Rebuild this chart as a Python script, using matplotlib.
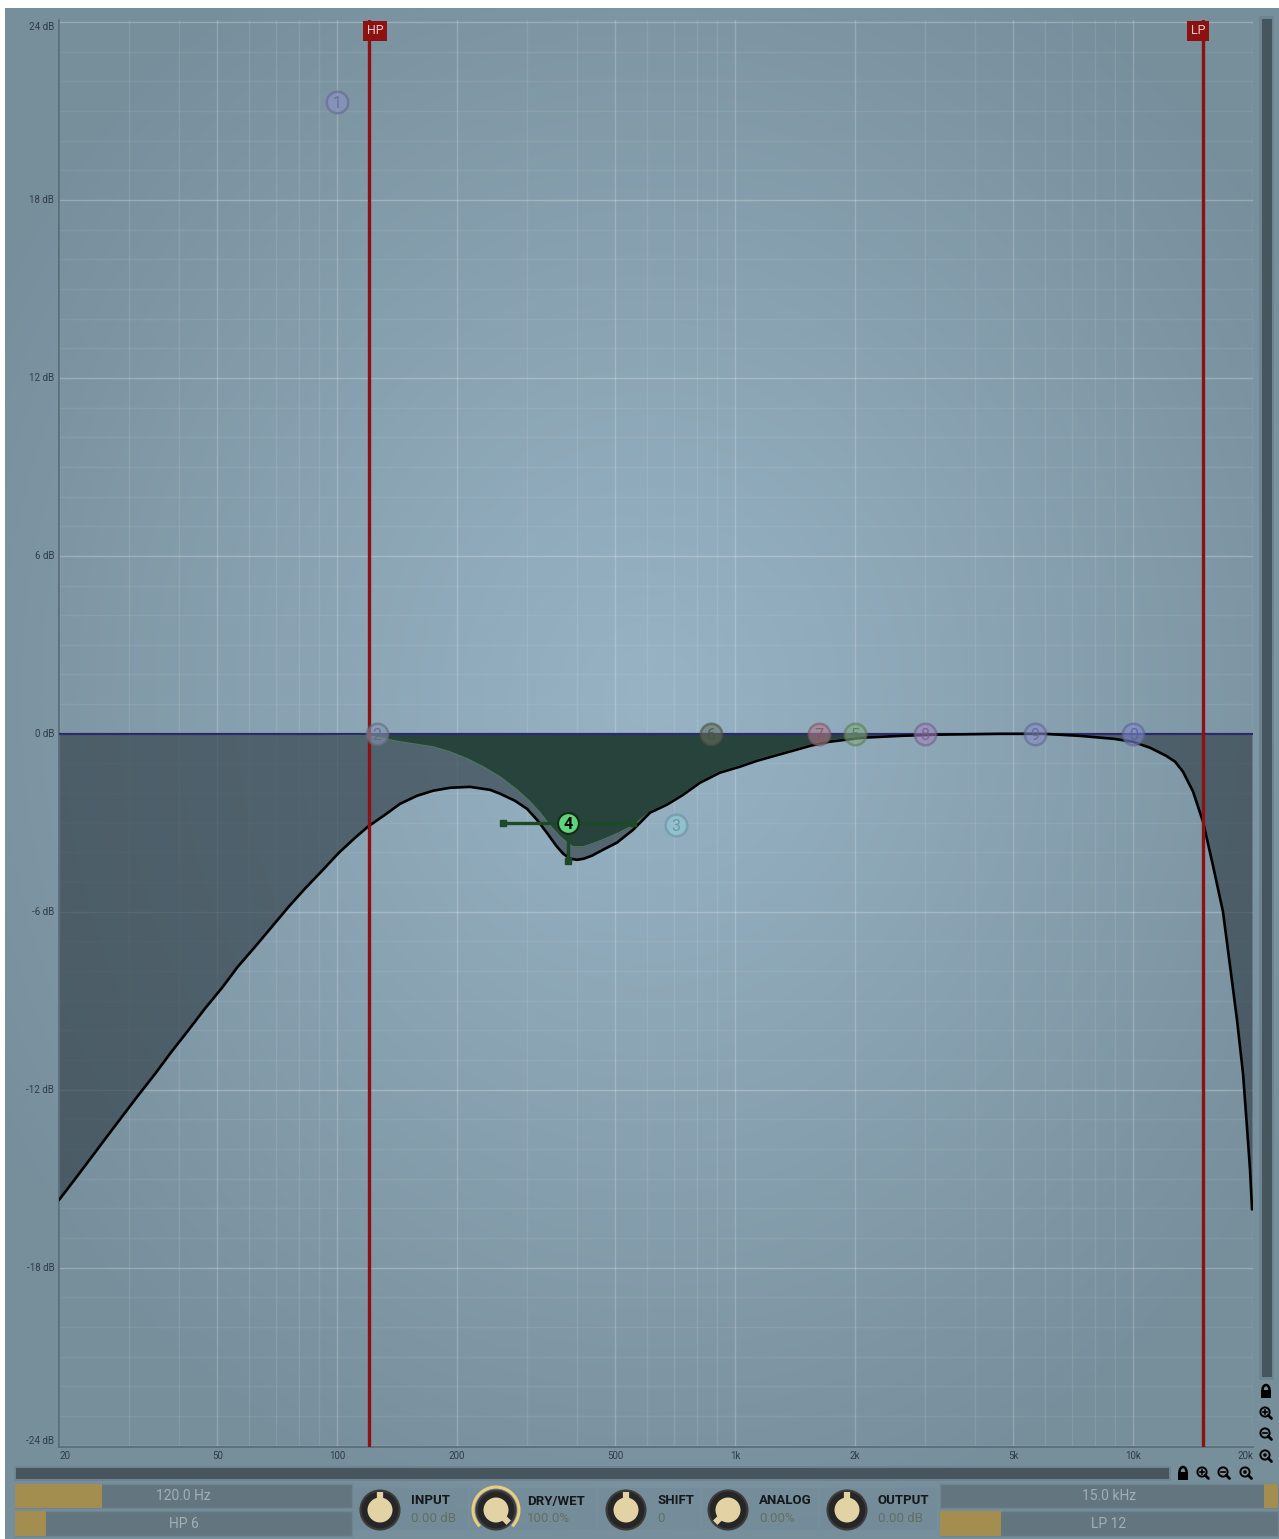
import numpy as np
import matplotlib
matplotlib.use("Agg")
import matplotlib.pyplot as plt
from matplotlib.patches import Rectangle, Circle, Arc
from matplotlib.ticker import NullLocator
from matplotlib.colors import to_rgb

plt.rcParams["font.family"] = ["Roboto", "DejaVu Sans"]

W, H = 1279, 1539

# total response curve (Hz, dB)
freq_total = [20.0, 21.9, 24.1, 26.4, 28.8, 31.6, 34.9, 38.2, 42.2, 46.5, 51.4,
              56.3, 62.2, 68.6, 75.2, 83.0, 91.6, 100.5, 110.8, 119.5, 131.9,
              143.9, 158.7, 174.1, 192.1, 215.6, 242.2, 256.5, 279.8, 299.9,
              317.7, 336.6, 354.8, 369.4, 384.5, 400.4, 417.0, 436.7, 465.5,
              504.6, 553.6, 610.8, 674.0, 739.4, 815.8, 915.8, 1028, 1135, 1259,
              1397, 1550, 1721, 1899, 2106, 2595, 3195, 4628, 5936, 7352, 8950,
              9990, 11020, 12090, 12740, 13340, 14140, 14980, 15870, 16810,
              17510, 18230, 18880, 19320, 19660, 19890]
db_total = [-15.72, -15.03, -14.29, -13.58, -12.91, -12.20, -11.46, -10.75,
            -10.01, -9.27, -8.56, -7.85, -7.18, -6.50, -5.86, -5.22, -4.62,
            -4.04, -3.51, -3.13, -2.73, -2.36, -2.09, -1.92, -1.82, -1.79,
            -1.89, -2.02, -2.26, -2.53, -2.90, -3.34, -3.77, -4.04, -4.21,
            -4.25, -4.21, -4.11, -3.91, -3.67, -3.24, -2.66, -2.39, -2.06,
            -1.65, -1.31, -1.11, -0.91, -0.74, -0.57, -0.40, -0.27, -0.20,
            -0.13, -0.07, -0.03, 0.0, 0.0, -0.07, -0.17, -0.27, -0.47, -0.74,
            -0.94, -1.28, -1.95, -2.97, -4.45, -6.00, -7.82, -9.64, -11.46,
            -13.28, -14.70, -16.04]

# band 4 response (green area)
freq_band4 = [20.0, 80.7, 120.2, 143.9, 174.1, 192.1, 211.8, 232.4, 256.5,
              283.0, 305.2, 323.3, 342.6, 363.0, 378.0, 391.3, 414.6, 431.5,
              465.5, 504.6, 553.6, 610.8, 674.0, 739.4, 815.8, 915.8, 1028,
              1135, 1259, 1397, 1550, 1721, 1899, 2106, 2595, 3195]
db_band4 = [0.0, -0.03, -0.07, -0.27, -0.44, -0.61, -0.84, -1.11, -1.45,
            -1.89, -2.29, -2.66, -3.10, -3.47, -3.67, -3.81, -3.81, -3.74,
            -3.57, -3.37, -3.10, -2.63, -2.36, -2.02, -1.62, -1.28, -1.08,
            -0.88, -0.71, -0.54, -0.37, -0.24, -0.17, -0.10, -0.03, 0.0]

hp_freq = 120.0
lp_freq = 15000.0
hp_slope_frac = 0.092
lp_slope_frac = 0.18

node_labels = ["1", "2", "3", "4", "5", "6", "7", "8", "9", "0"]
node_freq = [100, 126, 709, 380, 2000, 870, 1620, 3000, 5650, 10000]
node_db = [21.3, 0, -3.07, -3.0, 0, 0, 0, 0, 0, 0]
node_colors = ["#8a90c6", "#8693ae", "#8fcbd8", "#5ed47c", "#7ea87e",
               "#65705f", "#b07a8a", "#a084be", "#878dc6", "#7d88cc"]
band4_q_lo, band4_q_hi = 261, 553
band4_handle_db = -4.3

db_ticks = [24, 18, 12, 6, 0, -6, -12, -18, -24]
freq_ticks = [20, 50, 100, 200, 500, 1000, 2000, 5000, 10000, 20000]
freq_labels = ["20", "50", "100", "200", "500", "1k", "2k", "5k", "10k", "20k"]
freq_grid = [20, 30, 40, 50, 60, 70, 80, 90, 100, 200, 300, 400, 500, 600, 700,
             800, 900, 1000, 2000, 3000, 4000, 5000, 6000, 7000, 8000, 9000,
             10000, 20000]

knob_names = ["INPUT", "DRY/WET", "SHIFT", "ANALOG", "OUTPUT"]
knob_values = ["0.00 dB", "100.0%", "0", "0.00%", "0.00 dB"]
knob_pos = [0.5, 1.0, 0.5, 0.0, 0.5]

fig = plt.figure(figsize=(W / 100, H / 100), dpi=100)
fig.patch.set_facecolor("white")

# background / UI layer in pixel coordinates
ui = fig.add_axes([0, 0, 1, 1])
ui.set_xlim(0, W)
ui.set_ylim(H, 0)
ui.axis("off")

yy, xx = np.mgrid[8:H, 5:W]
r = np.sqrt(((xx - 650) / 760.0) ** 2 + ((yy - 700) / 860.0) ** 2)
t = np.clip(r, 0, 1)[..., None] ** 1.1
c0 = np.array([0x97, 0xb3, 0xc4]) / 255
c1 = np.array([0x77, 0x8e, 0x9b]) / 255
img = c0 * (1 - t) + c1 * t
ui.imshow(img, extent=(5, W, H, 8), aspect="auto", zorder=0)

# scrollbars
ui.add_patch(Rectangle((1259, 16), 15, 1364, fc="#6d8491", ec="none", zorder=1))
ui.add_patch(Rectangle((1262, 19), 10, 1358, fc="#46555e", ec="none", zorder=2))
ui.add_patch(Rectangle((14, 1466), 1157, 15, fc="#6d8491", ec="none", zorder=1))
ui.add_patch(Rectangle((16, 1468), 1153, 11, fc="#46555e", ec="none", zorder=2))


def lock(cx, cy):
    ui.add_patch(Rectangle((cx - 5, cy - 1), 10, 8, fc="black", ec="none", zorder=3))
    ui.add_patch(Arc((cx, cy - 1), 7, 10, theta1=180, theta2=360, lw=1.8,
                     color="black", zorder=3))


def magnifier(cx, cy, kind):
    ui.add_patch(Circle((cx - 1, cy - 1), 4.6, fill=False, ec="black", lw=1.4, zorder=3))
    ui.plot([cx + 2.3, cx + 5.5], [cy + 2.3, cy + 5.5], color="black", lw=2,
            solid_capstyle="round", zorder=3)
    if kind in ("+", "-"):
        ui.plot([cx - 3.3, cx + 1.3], [cy - 1, cy - 1], color="black", lw=1.2, zorder=3)
    if kind == "+":
        ui.plot([cx - 1, cx - 1], [cy - 3.3, cy + 1.3], color="black", lw=1.2, zorder=3)
    if kind == "o":
        ui.add_patch(Circle((cx - 1, cy - 1), 1.8, fc="black", ec="none", zorder=3))


lock(1266, 1391)
magnifier(1266, 1413, "+")
magnifier(1266, 1434, "-")
magnifier(1266, 1456, "o")
lock(1183, 1473)
magnifier(1203, 1473, "+")
magnifier(1224, 1473, "-")
magnifier(1246, 1473, "o")


def value_bar(x, y, w, h, f0, f1, text):
    ui.add_patch(Rectangle((x, y), w, h, fc="#63757f", ec="#6f8491", lw=1, zorder=2))
    ui.add_patch(Rectangle((x + w * f0, y), w * (f1 - f0), h, fc="#a38e50",
                           ec="none", zorder=3))
    ui.text(x + w / 2, y + h / 2 + 0.5, text, ha="center", va="center",
            fontsize=10, color="#a3afb6", zorder=4)


hp_frac = np.log10(hp_freq / 20) / 3
lp_frac = np.log10(lp_freq / 20) / 3
value_bar(15, 1484, 337, 24, 0, hp_frac, "120.0 Hz")
value_bar(15, 1511, 337, 25, 0, hp_slope_frac, "HP 6")
value_bar(940, 1484, 338, 24, lp_frac, 1.0, "15.0 kHz")
value_bar(940, 1511, 338, 25, 0, lp_slope_frac, "LP 12")

knob_cx = [380, 496, 626, 728, 847]
panel_x = [(353, 468), (470, 596), (598, 700), (702, 818), (820, 937)]
for i, name in enumerate(knob_names):
    px0, px1 = panel_x[i]
    ui.add_patch(Rectangle((px0, 1488), px1 - px0, 42, fc="#6f8695", alpha=0.3,
                           ec="none", zorder=1))
    cx, cy = knob_cx[i], 1510
    a = np.radians(-135 + 270 * knob_pos[i])
    if name == "DRY/WET":
        ui.add_patch(Arc((cx, cy), 46, 46, theta1=135,
                         theta2=135 + 270 * knob_pos[i], lw=2.2,
                         color="#ebcd80", zorder=3))
    ui.add_patch(Circle((cx, cy), 19.5, fc="#262626", ec="#3c3c3c", lw=1.5, zorder=3))
    ui.add_patch(Circle((cx, cy), 12.5, fc="#e3d2a3", ec="none", zorder=4))
    ui.plot([cx, cx + 18 * np.sin(a)], [cy, cy - 18 * np.cos(a)], color="#e3d2a3",
            lw=4.5, solid_capstyle="butt", zorder=4)
    ui.text(cx + 31, 1501, name, ha="left", va="center", fontsize=9.5,
            fontweight="bold", color="#15181a", zorder=4)
    ui.text(cx + 31, 1519, knob_values[i], ha="left", va="center", fontsize=9.5,
            color="#636f5f", zorder=4)

# main EQ graph
ax = fig.add_axes([59 / W, (H - 1447) / H, (1253 - 59) / W, (1447 - 20) / H])
ax.set_facecolor("none")
ax.set_xscale("log")
ax.set_xlim(20, 20000)
ax.set_ylim(-24.05, 24.07)
ax.xaxis.set_minor_locator(NullLocator())

for d in range(-24, 25):
    major = d % 6 == 0
    ax.axhline(d, color="white", alpha=0.24 if major else 0.07, lw=1, zorder=0.5)
for f in freq_grid:
    ax.axvline(f, color="white", alpha=0.2 if f in freq_ticks else 0.1, lw=1,
               zorder=0.5)

ax.fill_between(freq_total, db_total, 0, color="#34424b", alpha=0.67, lw=0, zorder=1)
ax.fill_between(freq_band4, db_band4, 0, color="#1d3b2f", alpha=0.8, lw=0, zorder=2)
ax.plot(freq_band4, db_band4, color="#4e7561", lw=1, zorder=2.5)
ax.axhline(0, color="#2b2a6e", lw=1.6, zorder=3)
ax.plot(freq_total, db_total, color="black", lw=1.9, zorder=4,
        solid_capstyle="round", solid_joinstyle="round")

# HP / LP markers
for f, lab, ha in [(hp_freq, "HP", "left"), (lp_freq, "LP", "right")]:
    ax.axvline(f, color="#8c1212", lw=2.4, zorder=5)
    ax.annotate(lab, xy=(f, 1), xycoords=("data", "axes fraction"),
                xytext=(-1.2 if ha == "left" else 1.5, -3.2),
                textcoords="offset points",
                ha=ha, va="top", fontsize=9, color="#f2c9c9", zorder=6,
                bbox=dict(boxstyle="square,pad=0.3", fc="#8c1212", ec="none"))

# band nodes
for lab, f, d, c in zip(node_labels, node_freq, node_db, node_colors):
    if lab == "4":
        continue
    dark = tuple(v * 0.72 for v in to_rgb(c))
    ax.plot(f, d, "o", ms=15.5, mfc=c, mec=dark, mew=1.8, alpha=0.6, zorder=6)
    ax.text(f, d - 0.05, lab, ha="center", va="center", fontsize=11.5, color=dark,
            alpha=0.85, zorder=7)

i4 = node_labels.index("4")
hc = "#1b4a24"
ax.plot([band4_q_lo, band4_q_hi], [node_db[i4]] * 2, color=hc, lw=2.4, zorder=6)
ax.plot([node_freq[i4]] * 2, [node_db[i4], band4_handle_db], color=hc, lw=2.4, zorder=6)
ax.plot([band4_q_lo, band4_q_hi, node_freq[i4]],
        [node_db[i4], node_db[i4], band4_handle_db], "s", ms=4, color=hc, zorder=6)
ax.plot(node_freq[i4], node_db[i4], "o", ms=15, mfc=node_colors[i4], mec="#152a18",
        mew=1.5, zorder=7)
ax.text(node_freq[i4], node_db[i4] - 0.05, "4", ha="center", va="center", fontsize=11.5,
        fontweight="bold", color="black", zorder=8)

# axes styling
for s in ["top", "right"]:
    ax.spines[s].set_visible(False)
for s in ["left", "bottom"]:
    ax.spines[s].set_color("#5a6d79")
    ax.spines[s].set_linewidth(1.3)
ax.set_yticks([])
ax.set_xticks(freq_ticks)
ax.set_xticklabels(freq_labels)
ax.tick_params(axis="x", length=0, pad=3, labelsize=7, labelcolor="#2f3d47")
xl = ax.get_xticklabels()
xl[0].set_ha("left")
xl[-1].set_ha("right")

for d in db_ticks:
    va = "center"
    if d == 24:
        va = "top"
    elif d == -24:
        va = "bottom"
    ax.text(-0.004, d, f"{d} dB", transform=ax.get_yaxis_transform(), ha="right",
            va=va, fontsize=7, color="#2f3d47")

fig.savefig("out.png", dpi=100, facecolor=fig.get_facecolor())
